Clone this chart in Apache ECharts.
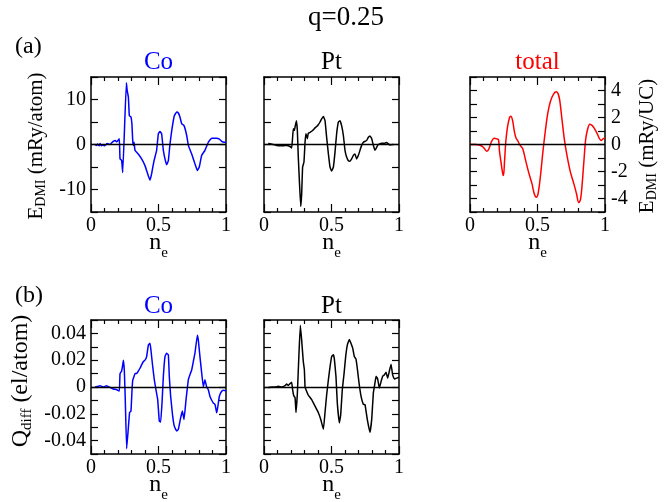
<!DOCTYPE html>
<html><head><meta charset="utf-8">
<script src="https://cdn.jsdelivr.net/npm/echarts@6/dist/echarts.min.js"></script>
<style>html,body{margin:0;padding:0;background:#fff}#c{width:669px;height:502px}</style>
</head><body><div id="c"></div><script>
// ---------- data ----------
const coTopX = [0.03,0.042,0.05,0.06,0.067,0.075,0.085,0.1,0.12,0.14,0.165,0.18,0.19,0.2,0.21,0.215,0.227,0.235,0.262,0.268,0.277,0.284,0.296,0.303,0.309,0.314,0.319,0.326,0.35,0.375,0.4,0.412,0.425,0.437,0.449,0.467,0.486,0.499,0.511,0.523,0.536,0.548,0.56,0.573,0.585,0.598,0.617,0.635,0.647,0.659,0.672,0.689,0.709,0.721,0.746,0.77,0.788,0.802,0.82,0.844,0.869,0.894,0.931,0.951,0.968,0.985,1.0];
const coTopY = [0,-0.2,0.1,-0.3,0.2,-0.3,-0.1,-0.3,0.2,0,0.7,0.9,0.6,0.9,1.3,-3.2,-3.5,-6.2,13.7,12,10.5,6.4,6.1,4.6,0.9,-0.2,0.5,-1.3,-2.1,-3.2,-4.7,-5.8,-7,-7.9,-6.5,-3.6,-1.3,2.4,2.9,2.4,-1.3,-3.2,-4.5,-3.6,0.1,3.1,6.4,7.2,7.0,6.1,4.6,4.2,2.0,-0.2,-2.1,-4.3,-5.8,-5.0,-2.4,-1.3,0.5,1.4,1.4,1.2,0.7,0.5,0.5];

const ptTopX = [0.032,0.044,0.069,0.094,0.119,0.143,0.168,0.193,0.205,0.212,0.217,0.225,0.232,0.24,0.247,0.254,0.262,0.272,0.279,0.286,0.296,0.304,0.311,0.321,0.328,0.341,0.36,0.378,0.39,0.402,0.415,0.427,0.44,0.452,0.464,0.477,0.489,0.501,0.514,0.526,0.538,0.551,0.563,0.575,0.588,0.6,0.612,0.625,0.637,0.649,0.662,0.674,0.686,0.699,0.711,0.723,0.736,0.748,0.76,0.773,0.785,0.798,0.81,0.822,0.835,0.847,0.872,0.896,0.909,0.921,0.933,0.958];
const ptTopY = [0.3,0.15,0,-0.2,-0.3,-0.3,-0.2,-0.45,-0.8,1.6,3.5,3.1,4.2,5.3,3.1,-2.8,-8,-13.8,-11,-5,-3.9,0.5,2.4,1.3,2.5,2.7,3.1,3.7,4.0,4.4,5.0,5.7,6.2,5.3,1.6,-2.1,-5,-5.9,-5,-1.7,2.4,5.0,5.3,4.2,2.0,-1.3,-2.8,-3.6,-3.7,-3.2,-2.4,-2.1,-3.2,-2.4,-1.3,-0.2,0.5,0.7,0.9,1.6,1.9,1.3,-0.2,-1.3,-0.6,0,0.3,0.3,0.45,0.15,-0.1,0];

const totX = [0,0.037,0.074,0.099,0.124,0.136,0.149,0.161,0.179,0.199,0.211,0.218,0.228,0.243,0.248,0.256,0.266,0.278,0.293,0.303,0.315,0.328,0.34,0.352,0.372,0.39,0.409,0.434,0.459,0.476,0.491,0.504,0.521,0.541,0.558,0.576,0.596,0.62,0.64,0.653,0.665,0.682,0.7,0.72,0.744,0.769,0.789,0.806,0.819,0.831,0.844,0.856,0.868,0.888,0.906,0.923,0.943,0.96,0.973,0.985,1.0];
const totY = [0,0,-0.05,-0.2,-0.5,-0.4,-0.07,0.25,0.47,0.42,0.35,-0.45,-1.2,-2.2,-2.3,-1.2,0.3,1.3,2.0,2.1,1.8,1.0,0.5,0.3,-0.07,-0.3,-1.05,-2.05,-2.9,-3.65,-3.9,-3.65,-2.4,-0.45,1.0,2.3,3.2,3.75,3.9,3.75,3.25,1.8,0.3,-0.9,-2.05,-2.9,-3.65,-4.3,-4.05,-2.9,-1.2,0.3,1.0,1.5,1.4,1.16,0.79,0.42,0.3,0.42,0.49];

const coBotX = [0.03,0.054,0.067,0.091,0.116,0.141,0.165,0.19,0.21,0.215,0.227,0.235,0.24,0.247,0.254,0.264,0.277,0.286,0.296,0.304,0.309,0.319,0.326,0.338,0.351,0.363,0.375,0.388,0.4,0.412,0.425,0.437,0.444,0.457,0.469,0.481,0.494,0.506,0.516,0.526,0.536,0.548,0.56,0.573,0.58,0.59,0.605,0.617,0.635,0.647,0.664,0.677,0.689,0.704,0.721,0.733,0.746,0.758,0.77,0.788,0.795,0.807,0.82,0.832,0.844,0.857,0.869,0.881,0.894,0.906,0.919,0.931,0.938,0.951,0.968,0.985,1.0];
const coBotY = [0,0.0005,0.001,0,0.001,-0.0003,-0.0015,-0.002,-0.003,0.010,0.012,0.0165,0.020,0.012,-0.01,-0.046,-0.03,-0.019,-0.018,-0.002,0.005,0.008,0.010,0.010,0.012,0.014,0.0165,0.019,0.020,0.0227,0.0313,0.0326,0.0276,0.0153,0.0054,-0.002,-0.0094,-0.0255,-0.0262,-0.0119,0.008,0.0227,0.0252,0.024,0.0079,-0.0069,-0.0218,-0.0292,-0.0329,-0.0316,-0.023,-0.018,-0.0242,-0.0094,0.0054,0.0091,0.0128,0.019,0.0252,0.0387,0.035,0.0227,0.0104,0.0,0.0054,0.0,-0.002,-0.0069,-0.0099,-0.0119,-0.0131,-0.0193,-0.0156,-0.0069,-0.0032,-0.0025,-0.003];

const ptBotX = [0.032,0.057,0.081,0.106,0.131,0.156,0.168,0.18,0.193,0.205,0.212,0.22,0.23,0.237,0.247,0.257,0.269,0.279,0.291,0.299,0.304,0.311,0.328,0.353,0.378,0.402,0.42,0.44,0.452,0.464,0.477,0.489,0.501,0.514,0.521,0.533,0.543,0.558,0.568,0.58,0.593,0.605,0.617,0.632,0.644,0.657,0.669,0.681,0.691,0.704,0.719,0.736,0.748,0.765,0.785,0.798,0.81,0.822,0.83,0.842,0.854,0.867,0.879,0.891,0.904,0.916,0.928,0.941,0.953,0.965,0.983,1.0];
const ptBotY = [-0.0003,0,0,0.0005,0,0.001,0.0022,0.0012,0.0025,0.0035,-0.002,-0.0064,-0.008,-0.019,-0.005,0.02,0.046,0.035,0.019,0.013,0.0,-0.002,-0.006,-0.0094,-0.0143,-0.019,-0.024,-0.0316,-0.019,-0.006,0.0054,0.015,0.0227,0.024,0.021,0.008,-0.0119,-0.0267,-0.021,-0.002,0.01,0.0227,0.0313,0.0355,0.0326,0.029,0.0227,0.021,0.014,0.003,-0.007,-0.013,-0.0131,-0.0242,-0.034,-0.024,-0.0044,0.003,0.008,0.006,-0.0007,0.004,0.008,0.009,0.011,0.0066,0.0116,0.017,0.009,0.006,0.0066,0.0074];

const xTickLabels = ['0','0.5','1'];
const eTicks = [-10, 0, 10];
const totTicks = [-4, -2, 0, 2, 4];
const qTicks = ['-0.04','-0.02','0','0.02','0.04'];

// ---------- layout ----------
const FONT = '"Liberation Serif", "Times New Roman", serif';
const BLUE = '#0000ff', RED = '#ff0000', BLACK = '#000000';
const panels = [
  {left:91,  top:77,  h:135, ymin:-15,   ymax:15,   step:5,    lab:'left',  x:coTopX, y:coTopY, color:BLUE, smooth:0.1},
  {left:264, top:77,  h:135, ymin:-15,   ymax:15,   step:5,    lab:'none',  x:ptTopX, y:ptTopY, color:BLACK, smooth:0.1},
  {left:470, top:77,  h:135, ymin:-5,    ymax:5,    step:1,    lab:'right', x:totX,   y:totY,   color:RED, smooth:0.35},
  {left:91,  top:320, h:134, ymin:-0.05, ymax:0.05, step:0.01, lab:'left',  x:coBotX, y:coBotY, color:BLUE, smooth:0.1},
  {left:264, top:320, h:134, ymin:-0.05, ymax:0.05, step:0.01, lab:'none',  x:ptBotX, y:ptBotY, color:BLACK, smooth:0.1}
];
function yFmt(i){
  return function(v){
    if (i===2){ const k=Math.round(v); return totTicks.indexOf(k)>=0 && Math.abs(v-k)<1e-6 ? String(k) : ''; }
    if (i>=3){ const k=Math.round(v*100); const s = k===0?'0':(k/100).toFixed(2); return qTicks.indexOf(s)>=0 ? s : ''; }
    const k=Math.round(v); return eTicks.indexOf(k)>=0 ? String(k) : '';
  };
}
const lineSt = {color:BLACK, width:1.5};
const tickSt = {color:BLACK, width:1.2};
const grid=[], xAxis=[], yAxis=[], series=[];
panels.forEach((p,i)=>{
  grid.push({left:p.left, top:p.top, width:135, height:p.h, containLabel:false});
  ['bottom','top'].forEach((pos,k)=>{
    xAxis.push({type:'value', gridIndex:i, position:pos, min:0, max:1, interval:0.5,
      axisLine:{show:true, onZero:false, lineStyle:lineSt},
      axisTick:{show:true, inside:true, length:8, lineStyle:tickSt},
      minorTick:{show:true, splitNumber:5, length:4, lineStyle:tickSt},
      splitLine:{show:false}, minorSplitLine:{show:false},
      axisLabel:{show:k===0, margin:4, fontSize:20, fontFamily:FONT, color:BLACK,
        showMinLabel:true, showMaxLabel:true,
        formatter:v=> v<0.25?xTickLabels[0]:(v<0.75?xTickLabels[1]:xTickLabels[2])}
    });
  });
  ['left','right'].forEach((pos)=>{
    yAxis.push({type:'value', gridIndex:i, position:pos, min:p.ymin, max:p.ymax, interval:p.step,
      axisLine:{show:true, onZero:false, lineStyle:lineSt},
      axisTick:{show:true, inside:true, length:7, lineStyle:tickSt},
      splitLine:{show:false},
      axisLabel:{show:p.lab===pos, margin:pos==='left'?5:6, fontSize:20, fontFamily:FONT, color:BLACK,
        showMinLabel:true, showMaxLabel:true, formatter:yFmt(i)}
    });
  });
  series.push({type:'line', xAxisIndex:2*i, yAxisIndex:2*i, data:p.x.map((v,j)=>[v,p.y[j]]),
    symbol:'none', showSymbol:false, smooth:p.smooth, lineStyle:{color:p.color, width:1.5}, z:3,
    markLine:{silent:true, symbol:'none', label:{show:false}, animation:false,
      lineStyle:{color:BLACK, width:1.4, type:'solid'}, data:[{yAxis:0}]}
  });
});

// ---------- text ----------
const cv = document.createElement('canvas').getContext('2d');
function tw(t,s){ cv.font = s+'px "Liberation Serif"'; return cv.measureText(t).width; }
function txt(t,x,y,size,color,align){
  return {type:'text', x:x, y:y, silent:true, style:{text:t, fontSize:size, fontFamily:FONT, fill:color||BLACK,
    align:align||'center', verticalAlign:'middle', textAlign:align||'center', textVerticalAlign:'middle'}};
}
function subLabel(cx,cy,main,sub,rest,size,subSize,subOff,rot){
  const w1=tw(main,size), w2=tw(sub,subSize), w3=rest?tw(rest,size):0;
  let x=-(w1+w2+w3)/2;
  const ch=[txt(main,x,0,size,BLACK,'left'), txt(sub,x+w1,subOff,subSize,BLACK,'left')];
  if(rest) ch.push(txt(rest,x+w1+w2,0,size,BLACK,'left'));
  return {type:'group', x:cx, y:cy, rotation:rot||0, children:ch};
}
const graphic = [
  txt('q=0.25', 346, 18, 27),
  txt('(a)', 15, 47, 24, BLACK, 'left'),
  txt('(b)', 15, 296, 24, BLACK, 'left'),
  txt('Co', 158.5, 62, 25, BLUE), txt('Pt', 331.5, 62, 25), txt('total', 537.5, 62, 25, RED),
  txt('Co', 158.5, 306, 25, BLUE), txt('Pt', 331.5, 306, 25),
  subLabel(36, 146, 'E', 'DMI', ' (mRy/atom)', 21, 14, 5, Math.PI/2),
  subLabel(647, 146, 'E', 'DMI', ' (mRy/UC)', 21, 14, 5, Math.PI/2),
  subLabel(21, 381, 'Q', 'diff', ' (el/atom)', 24, 15, 6, Math.PI/2)
];
[158.5, 331.5, 537.5].forEach(cx=>graphic.push(subLabel(cx, 243, 'n', 'e', '', 24, 15, 10)));
[158.5, 331.5].forEach(cx=>graphic.push(subLabel(cx, 485, 'n', 'e', '', 24, 15, 10)));

const chart = echarts.init(document.getElementById('c'), null, {renderer:'canvas'});
chart.setOption({animation:false, backgroundColor:'#fff', grid, xAxis, yAxis, series, graphic});
</script></body></html>
